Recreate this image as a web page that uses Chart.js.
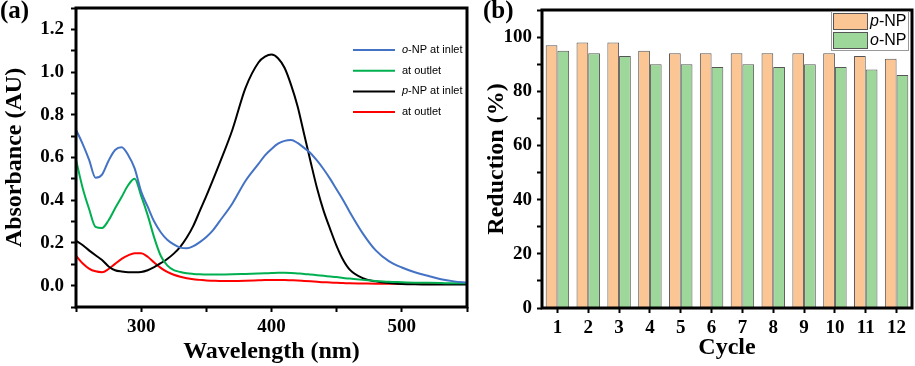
<!DOCTYPE html>
<html>
<head>
<meta charset="utf-8">
<script src="https://cdn.jsdelivr.net/npm/chart.js@4.4.1/dist/chart.umd.min.js"></script>
<style>
html, body { margin: 0; padding: 0; background: #fff; }
#wrap { position: relative; width: 915px; height: 366px; overflow: hidden; }
canvas { position: absolute; top: 0; }
#ca { left: 0; }
#cb { left: 470px; }
.tag { position: absolute; top: -4px; font: bold 25px "Liberation Serif", serif; color: #000; }
</style>
</head>
<body>
<div id="wrap">
  <canvas id="ca" width="470" height="366"></canvas>
  <canvas id="cb" width="445" height="366"></canvas>
  <div class="tag" style="left:0">(a)</div>
  <div class="tag" style="left:483px">(b)</div>
</div>
<script>
// (a) UV-vis spectra
const wavelengths = [250,255,260,265,270,275,280,285,290,295,300,305,310,315,320,325,330,335,340,345,350,355,360,370,380,390,395,400,405,410,415,420,425,430,435,440,445,450,455,460,470,480,490,500,510,520,530,540,550];
const oNPInlet  = [0.73,0.665,0.59,0.505,0.52,0.585,0.635,0.648,0.612,0.549,0.44,0.37,0.30,0.25,0.215,0.193,0.178,0.175,0.185,0.204,0.228,0.259,0.30,0.385,0.49,0.57,0.61,0.64,0.665,0.678,0.682,0.668,0.645,0.62,0.585,0.545,0.50,0.45,0.40,0.345,0.245,0.165,0.115,0.085,0.063,0.046,0.03,0.02,0.014];
const oNPOutlet = [0.59,0.46,0.36,0.275,0.27,0.306,0.362,0.415,0.47,0.50,0.42,0.33,0.225,0.14,0.095,0.073,0.064,0.058,0.055,0.053,0.052,0.052,0.052,0.053,0.055,0.057,0.058,0.059,0.06,0.06,0.059,0.057,0.055,0.052,0.049,0.046,0.043,0.04,0.036,0.033,0.027,0.022,0.018,0.016,0.014,0.013,0.012,0.011,0.011];
const pNPInlet  = [0.21,0.19,0.165,0.142,0.12,0.09,0.072,0.066,0.063,0.063,0.064,0.072,0.087,0.105,0.125,0.15,0.182,0.225,0.28,0.35,0.42,0.494,0.57,0.73,0.925,1.045,1.072,1.082,1.065,1.02,0.94,0.84,0.71,0.58,0.455,0.35,0.265,0.185,0.12,0.075,0.035,0.02,0.012,0.008,0.006,0.005,0.005,0.005,0.005];
const pNPOutlet = [0.14,0.105,0.08,0.067,0.063,0.078,0.102,0.125,0.142,0.152,0.152,0.135,0.108,0.083,0.064,0.051,0.042,0.035,0.03,0.027,0.024,0.023,0.022,0.022,0.023,0.025,0.026,0.026,0.026,0.026,0.025,0.024,0.022,0.02,0.018,0.016,0.015,0.013,0.012,0.011,0.01,0.009,0.009,0.008,0.008,0.008,0.008,0.008,0.008];

// (b) reduction per cycle
const cycles = ['1','2','3','4','5','6','7','8','9','10','11','12'];
const pNPReduction = [97,98,98,95,94,94,94,94,94,94,93,92];
const oNPReduction = [95,94,93,90,90,89,90,89,90,89,88,86];

Chart.defaults.font.family = '"Liberation Serif", serif';
Chart.defaults.font.weight = 'bold';
Chart.defaults.font.size = 19;
Chart.defaults.color = '#000';

const pts = arr => wavelengths.map((w, i) => ({ x: w, y: arr[i] }));

// label like "o-NP at inlet": first letter italic
function drawLabel(ctx, text, x, y, size) {
  const it = text.indexOf('-') === 1 ? text[0] : '';
  const rest = text.slice(it.length);
  ctx.textBaseline = 'middle';
  ctx.textAlign = 'left';
  ctx.fillStyle = '#000';
  ctx.font = 'italic ' + size + 'px "Liberation Sans", sans-serif';
  ctx.fillText(it, x, y);
  const w = it ? ctx.measureText(it).width : 0;
  ctx.font = size + 'px "Liberation Sans", sans-serif';
  ctx.fillText(rest, x + w, y);
}

// fixed axis box sizes, no extra label padding
const fixW = w => s => { s.width = w; s.paddingTop = 0; s.paddingBottom = 0; };
const fixH = h => s => { s.height = h; s.paddingLeft = 0; s.paddingRight = 0; };

const frame = {
  id: 'frame',
  afterDatasetsDraw(chart) {
    const { ctx, chartArea: a } = chart;
    ctx.save();
    ctx.lineWidth = 3;
    ctx.strokeStyle = '#000';
    ctx.strokeRect(a.left, a.top, a.right - a.left, a.bottom - a.top);
    ctx.restore();
  }
};

const lineLegend = {
  id: 'lineLegend',
  afterDraw(chart) {
    const { ctx, chartArea: a } = chart;
    ctx.save();
    chart.data.datasets.forEach((ds, i) => {
      const y = a.top + 42 + i * 20.7;
      ctx.strokeStyle = ds.borderColor;
      ctx.lineWidth = 2;
      ctx.beginPath();
      ctx.moveTo(a.right - 114, y);
      ctx.lineTo(a.right - 72, y);
      ctx.stroke();
      drawLabel(ctx, ds.label, a.right - 65, y, 11);
    });
    ctx.restore();
  }
};

const barLegend = {
  id: 'barLegend',
  afterDraw(chart) {
    const { ctx, chartArea: a } = chart;
    const x0 = a.right - 81, y0 = a.top + 1;
    ctx.save();
    ctx.fillStyle = '#fff';
    ctx.fillRect(x0, y0, 77, 39);
    ctx.strokeStyle = '#999';
    ctx.lineWidth = 1;
    ctx.strokeRect(x0 + 0.5, y0 + 0.5, 77, 39);
    chart.data.datasets.forEach((ds, i) => {
      const sy = y0 + 2 + i * 19;
      ctx.fillStyle = ds.backgroundColor;
      ctx.fillRect(x0 + 2, sy, 34, 16);
      ctx.strokeStyle = '#555';
      ctx.strokeRect(x0 + 2.5, sy + 0.5, 34, 16);
      drawLabel(ctx, ds.label, x0 + 39, sy + 9, 16);
    });
    ctx.restore();
  }
};

const tickGrid = { drawOnChartArea: false, tickLength: 5, tickColor: '#000', tickWidth: 2 };

new Chart(document.getElementById('ca'), {
  type: 'line',
  data: {
    datasets: [
      { label: 'o-NP at inlet', data: pts(oNPInlet), borderColor: '#4472C4' },
      { label: 'at outlet', data: pts(oNPOutlet), borderColor: '#00B050' },
      { label: 'p-NP at inlet', data: pts(pNPInlet), borderColor: '#000000' },
      { label: 'at outlet', data: pts(pNPOutlet), borderColor: '#FF0000' }
    ]
  },
  options: {
    responsive: false,
    animation: false,
    layout: { padding: { left: 0, top: 8, right: 3, bottom: 0 } },
    elements: {
      point: { radius: 0 },
      line: { borderWidth: 2, cubicInterpolationMode: 'monotone' }
    },
    plugins: { legend: { display: false }, tooltip: { enabled: false } },
    scales: {
      x: {
        type: 'linear', min: 250, max: 550,
        ticks: { stepSize: 50, autoSkip: false, maxRotation: 0, padding: 4,
                 callback: v => v % 100 === 0 ? v : '' },
        grid: tickGrid,
        border: { display: false },
        title: { display: true, text: 'Wavelength (nm)', font: { size: 24, weight: 'bold' }, padding: 0 },
        afterFit: fixH(59)
      },
      y: {
        min: -0.1, max: 1.3,
        ticks: { stepSize: 0.1, autoSkip: false, padding: 7,
                 callback: v => Math.round(v * 10) % 2 === 0 ? v.toFixed(1) : '' },
        grid: tickGrid,
        border: { display: false },
        title: { display: true, text: 'Absorbance (AU)', font: { size: 24, weight: 'bold' }, padding: 0 },
        afterFit: fixW(76)
      }
    }
  },
  plugins: [frame, lineLegend]
});

new Chart(document.getElementById('cb'), {
  type: 'bar',
  data: {
    labels: cycles,
    datasets: [
      { label: 'p-NP', data: pNPReduction, backgroundColor: '#FCC594', borderColor: '#555', borderWidth: 1 },
      { label: 'o-NP', data: oNPReduction, backgroundColor: '#9ED79A', borderColor: '#555', borderWidth: 1 }
    ]
  },
  options: {
    responsive: false,
    animation: false,
    categoryPercentage: 0.76,
    barPercentage: 1.0,
    layout: { padding: { left: 0, top: 10, right: 3, bottom: 0 } },
    plugins: { legend: { display: false }, tooltip: { enabled: false } },
    scales: {
      x: {
        ticks: { padding: 4, maxRotation: 0, autoSkip: false },
        grid: Object.assign({ offset: false }, tickGrid),
        border: { display: false },
        title: { display: true, text: 'Cycle', font: { size: 24, weight: 'bold' }, padding: { top: 0, bottom: 4 } },
        afterFit: fixH(58)
      },
      y: {
        min: 0, max: 110,
        ticks: { stepSize: 10, autoSkip: false, padding: 5,
                 callback: v => v % 20 === 0 ? v : '' },
        grid: tickGrid,
        border: { display: false },
        title: { display: true, text: 'Reduction (%)', font: { size: 24, weight: 'bold' }, padding: { top: 12, bottom: 0 } },
        afterFit: fixW(72)
      }
    }
  },
  plugins: [frame, barLegend]
});
</script>
</body>
</html>
